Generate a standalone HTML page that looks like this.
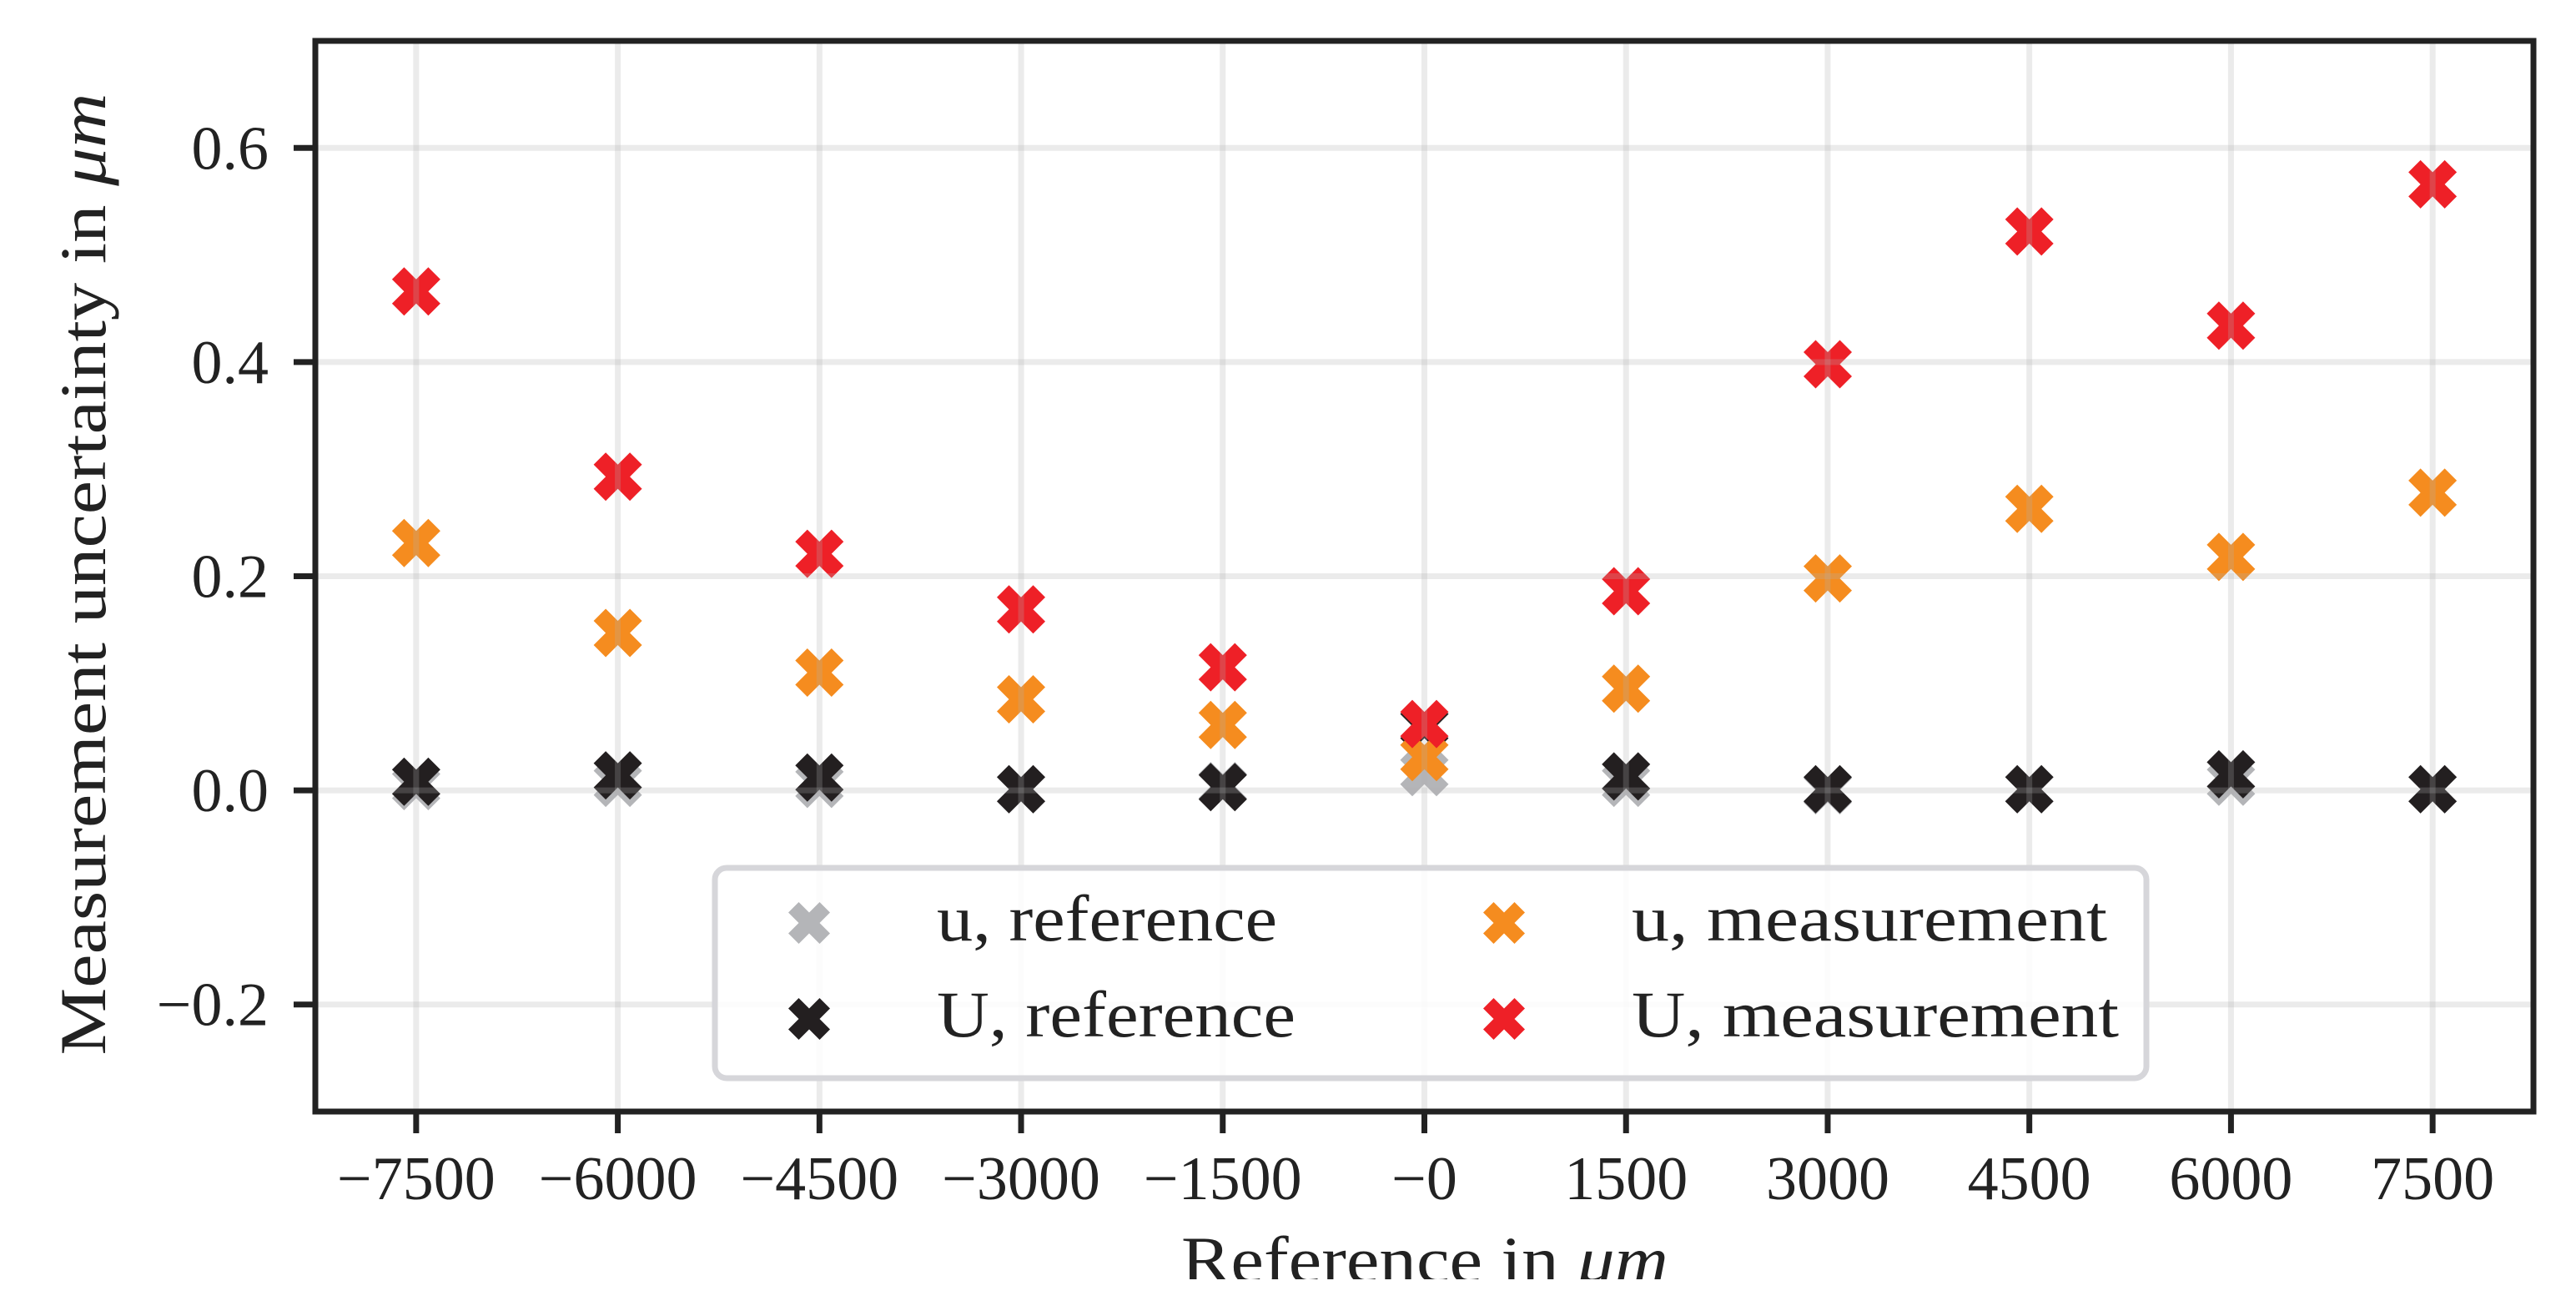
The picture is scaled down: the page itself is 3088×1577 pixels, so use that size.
<!DOCTYPE html>
<html><head><meta charset="utf-8"><style>
html,body{margin:0;padding:0;background:#fff;}
svg{display:block;font-family:"Liberation Serif",serif;}
</style></head><body>
<svg id="chart" width="3088" height="1577" viewBox="0 0 3088 1577" xmlns="http://www.w3.org/2000/svg">
<rect x="0" y="0" width="3088" height="1577" fill="#fff"/>
<g id="marks"></g>
<g id="grid"></g>
<g id="legend"></g>
<g id="axes"></g>
<text x="1708" y="1536" font-size="78" text-anchor="middle" fill="#222" textLength="584" lengthAdjust="spacingAndGlyphs">Reference in <tspan font-style="italic">μm</tspan></text>
<rect x="0" y="1533" width="3088" height="44" fill="#fff"/>
<text transform="translate(126,688) rotate(-90)" font-size="78" text-anchor="middle" fill="#222" textLength="1153" lengthAdjust="spacingAndGlyphs">Measurement uncertainty in <tspan font-style="italic">μm</tspan></text>
</svg>
<script>
const categories = [-7500,-6000,-4500,-3000,-1500,0,1500,3000,4500,6000,7500];
const xTickLabels = ["\u22127500","\u22126000","\u22124500","\u22123000","\u22121500","\u22120","1500","3000","4500","6000","7500"];
const yTicks = [-0.2,0,0.2,0.4,0.6];
const yTickLabels = ["\u22120.2","0.0","0.2","0.4","0.6"];
const uReference = [0.004,0.007,0.006,0.001,0.004,0.017,0.007,0.000,0.001,0.008,0.001];
const UReference = [0.008,0.014,0.012,0.001,0.003,0.060,0.013,0.001,0.001,0.015,0.001];
const uMeasurement = [0.231,0.147,0.110,0.085,0.061,0.031,0.095,0.198,0.263,0.218,0.278];
const UMeasurement = [0.466,0.293,0.221,0.169,0.115,0.062,0.186,0.398,0.522,0.434,0.566];

const NS="http://www.w3.org/2000/svg";
const L=378,R=3037,T=49,B=1332;
const xMin=-8250,xMax=8250,yMin=-0.3,yMax=0.7;
function xs(v){return L+(v-xMin)/(xMax-xMin)*(R-L);}
function ys(v){return B-(v-yMin)/(yMax-yMin)*(B-T);}
function mk(tag,attrs,parent){const e=document.createElementNS(NS,tag);for(const k in attrs)e.setAttribute(k,attrs[k]);parent.appendChild(e);return e;}
function xPath(cx,cy,s){
  const p=[[-0.25,-0.5],[0,-0.25],[0.25,-0.5],[0.5,-0.25],[0.25,0],[0.5,0.25],[0.25,0.5],[0,0.25],[-0.25,0.5],[-0.5,0.25],[-0.25,0],[-0.5,-0.25]];
  return "M"+p.map(q=>(cx+q[0]*s).toFixed(1)+","+(cy+q[1]*s).toFixed(1)).join("L")+"Z";
}
const marks=document.getElementById('marks');
const series=[[uReference,'#b4b5b8','u-reference'],[UReference,'#231f20','U-reference'],[uMeasurement,'#f58c1f','u-measurement'],[UMeasurement,'#ee2027','U-measurement']];
series.forEach(s=>{
  const g=mk('g',{},marks);
  
  
  s[0].forEach((v,i)=>{
    const p=mk('path',{d:xPath(xs(categories[i]),ys(v),58),fill:s[1]},g);
    
    
  });
});
const grid=document.getElementById('grid');
categories.forEach(c=>{
  const l=mk('line',{x1:xs(c),x2:xs(c),y1:T,y2:B,stroke:'rgba(176,176,176,0.25)','stroke-width':7},grid);
  
  
});
yTicks.forEach(v=>{
  const l=mk('line',{x1:L,x2:R,y1:ys(v),y2:ys(v),stroke:'rgba(176,176,176,0.25)','stroke-width':7},grid);
  
  
});
const lg=document.getElementById('legend');
const box=mk('rect',{x:857,y:1040,width:1716,height:252,rx:14,fill:'rgba(255,255,255,0.85)',stroke:'#d6d6da','stroke-width':7},lg);


const entries=[[970,1106,'#b4b5b8','u, reference',1127,408],[970,1221,'#231f20','U, reference',1242,430],[1803,1106,'#f58c1f','u, measurement',1127,570],[1803,1221,'#ee2027','U, measurement',1242,584]];
entries.forEach(e=>{
  const m=mk('path',{d:xPath(e[0],e[1],50),fill:e[2]},lg);
  
  
  const t=mk('text',{x:e[0]+153,y:e[4],'font-size':78,fill:'#222',textLength:e[5],lengthAdjust:'spacingAndGlyphs'},lg);
  t.textContent=e[3];
  
  
});
const ax=document.getElementById('axes');
const sp=mk('rect',{x:L,y:T,width:R-L,height:B-T,fill:'none',stroke:'#222','stroke-width':7},ax);


categories.forEach((c,i)=>{
  const t=mk('line',{x1:xs(c),x2:xs(c),y1:B,y2:B+26,stroke:'#222','stroke-width':7},ax);
  
  
  const lb=mk('text',{x:xs(c),y:1437,'font-size':74,'text-anchor':'middle',fill:'#222'},ax);
  lb.textContent=xTickLabels[i];
  
  
});
yTicks.forEach((v,i)=>{
  const t=mk('line',{x1:L-26,x2:L,y1:ys(v),y2:ys(v),stroke:'#222','stroke-width':7},ax);
  
  
  const lb=mk('text',{x:322,y:ys(v)+25,'font-size':74,'text-anchor':'end',fill:'#222'},ax);
  lb.textContent=yTickLabels[i];
  
  
});
</script>
</body></html>
